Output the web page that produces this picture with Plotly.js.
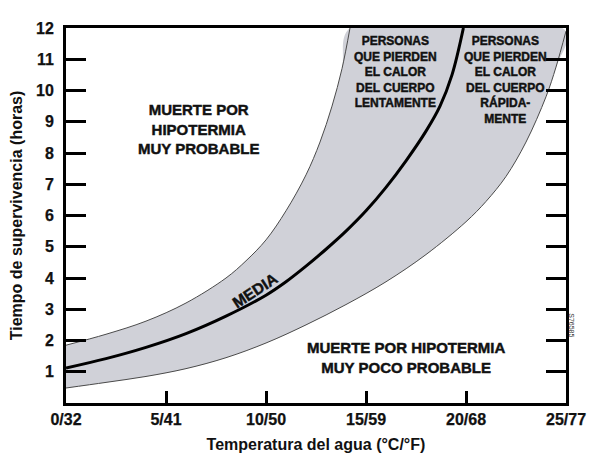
<!DOCTYPE html>
<html>
<head>
<meta charset="utf-8">
<script src="https://cdn.plot.ly/plotly-3.0.1.min.js"></script>
<style>
  html, body { margin: 0; padding: 0; background: #fff; }
  #chart { width: 594px; height: 462px; }
  /* the original lettering is a heavy grotesque, thicken it a touch */
  #chart .annotation-text { stroke: #111; stroke-width: 0.45px; }
  #chart .annotation[data-index="5"] .annotation-text { stroke: none; }
  #chart .xtick text, #chart .ytick text { stroke: #111; stroke-width: 0.25px; }
</style>
</head>
<body>
<div id="chart"></div>
<script>
// Upper edge of the band (people losing body heat slowly)
const tempUpper = [0, 2, 4, 6, 8, 9, 10, 11, 12, 12.7, 13.3, 13.8, 14.2];
const hoursUpper = [1.85, 2.2, 2.62, 3.2, 4.0, 4.55, 5.22, 6.15, 7.3, 8.35, 9.5, 10.7, 12];

// Mean survival time
const tempMean = [0, 2, 4, 6, 8, 10, 11, 12, 13, 14, 15, 16, 17, 18, 18.7, 19.3, 19.87];
const hoursMean = [1.12, 1.42, 1.78, 2.22, 2.78, 3.45, 3.88, 4.38, 4.92, 5.5, 6.15, 6.9, 7.75, 8.7, 9.5, 10.5, 12];

// Lower edge of the band (people losing body heat quickly)
const tempLower = [0, 2, 4, 6, 8, 10, 12, 14, 16, 18, 20, 21, 22, 23, 24, 24.5, 25];
const hoursLower = [0.48, 0.66, 0.85, 1.1, 1.45, 1.92, 2.5, 3.15, 3.88, 4.75, 5.8, 6.45, 7.25, 8.35, 9.8, 10.75, 11.9];

const xTickVals = [0, 5, 10, 15, 20, 25];
const xTickText = ["0/32", "5/41", "10/50", "15/59", "20/68", "25/77"];
const yTickVals = [1, 2, 3, 4, 5, 6, 7, 8, 9, 10, 11, 12];

const FONT = "Liberation Sans, Arial, Helvetica, sans-serif";
const bandFill = "#d0d1d8";
const edgeColor = "#4a4a4a";

// closed polygon: up the upper edge, back down the lower edge
const bandX = tempUpper.concat(tempLower.slice().reverse());
const bandY = hoursUpper.concat(hoursLower.slice().reverse());

const curve = (color, width) => ({ color: color, width: width, shape: "spline", smoothing: 1 });

const data = [
  {
    type: "scatter",
    mode: "lines",
    x: bandX,
    y: bandY,
    fill: "toself",
    fillcolor: bandFill,
    line: curve(bandFill, 0),
    hoverinfo: "skip",
  },
  { type: "scatter", mode: "lines", x: tempUpper, y: hoursUpper, line: curve(edgeColor, 1) },
  { type: "scatter", mode: "lines", x: tempLower, y: hoursLower, line: curve(edgeColor, 1) },
  { type: "scatter", mode: "lines", x: tempMean, y: hoursMean, line: curve("#000", 3) },
];

const boldText = (size) => ({ family: FONT, size: size, color: "#111", weight: "bold" });

const layout = {
  width: 594,
  height: 462,
  margin: { l: 66, r: 28, t: 28, b: 59 },
  paper_bgcolor: "#fff",
  plot_bgcolor: "#fff",
  showlegend: false,
  font: { family: FONT, color: "#111" },
  xaxis: {
    range: [0, 25],
    showgrid: false,
    zeroline: false,
    showline: true,
    linewidth: 3,
    linecolor: "#000",
    mirror: true,
    ticks: "inside",
    ticklen: 12,
    tickwidth: 3,
    tickcolor: "#000",
    tickvals: xTickVals,
    ticktext: xTickText,
    tickfont: boldText(16),
    title: { text: "Temperatura del agua (°C/°F)", font: boldText(16), standoff: 12 },
  },
  yaxis: {
    range: [0, 12],
    showgrid: false,
    zeroline: false,
    showline: true,
    linewidth: 3,
    linecolor: "#000",
    mirror: "ticks",
    ticks: "inside",
    ticklen: 20,
    tickwidth: 3,
    tickcolor: "#000",
    tickvals: yTickVals,
    tickfont: boldText(16),
    ticklabelstandoff: 6,
    title: { text: "Tiempo de supervivencia (horas)", font: boldText(16), standoff: 10 },
  },
  annotations: [
    {
      x: 6.6, y: 8.78, xref: "x", yref: "y", showarrow: false,
      text: "<b>MUERTE POR<br>HIPOTERMIA<br>MUY PROBABLE</b>",
      font: boldText(15), align: "center",
    },
    {
      x: 17.0, y: 1.47, xref: "x", yref: "y", showarrow: false,
      text: "<b>MUERTE POR HIPOTERMIA<br>MUY POCO PROBABLE</b>",
      font: boldText(15), align: "center",
    },
    {
      x: 16.45, y: 10.6, xref: "x", yref: "y", showarrow: false,
      text: "<b>PERSONAS<br>QUE PIERDEN<br>EL CALOR<br>DEL CUERPO<br>LENTAMENTE</b>",
      font: boldText(12), align: "center",
    },
    {
      x: 21.95, y: 10.35, xref: "x", yref: "y", showarrow: false,
      text: "<b>PERSONAS<br>QUE PIERDEN<br>EL CALOR<br>DEL CUERPO<br>RÁPIDA-<br>MENTE</b>",
      font: boldText(12), align: "center",
    },
    {
      x: 9.45, y: 3.6, xref: "x", yref: "y", showarrow: false,
      text: "<b>MEDIA</b>", textangle: -33,
      font: boldText(15.5),
    },
    {
      x: 1.012, y: 0.17, xref: "paper", yref: "paper", xanchor: "center", showarrow: false,
      text: "S76585", textangle: 90,
      font: { family: FONT, size: 7, color: "#333" },
    },
  ],
};

Plotly.newPlot("chart", data, layout, { staticPlot: true, displayModeBar: false });
</script>
</body>
</html>
